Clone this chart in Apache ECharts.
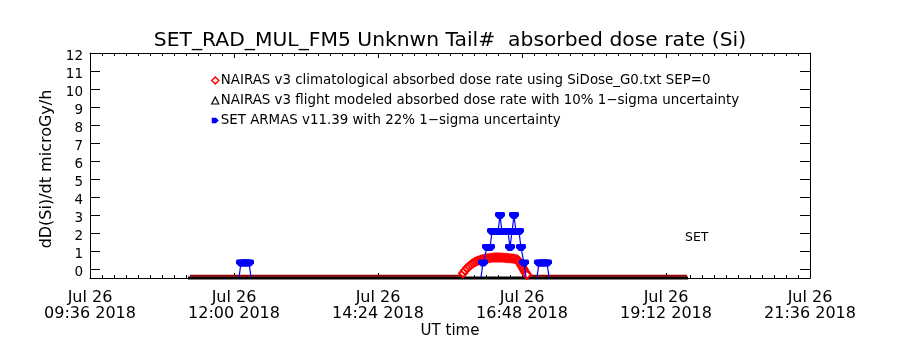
<!DOCTYPE html>
<html><head><meta charset="utf-8">
<script src="https://cdn.jsdelivr.net/npm/echarts@6/dist/echarts.min.js"></script>
<style>html,body{margin:0;padding:0;background:#fff}#c{width:900px;height:350px}</style>
</head><body><div id="c"></div>
<script>
// ---- data (x = minutes of day, UT, Jul 26 2018) ----
var xTickMinutes = [576, 720, 864, 1008, 1152, 1296];
var yRange = [-0.5, 12];
var yTicks = [0,1,2,3,4,5,6,7,8,9,10,11,12];
var seriesNames = [
  'NAIRAS v3 climatological absorbed dose rate using SiDose_G0.txt SEP=0',
  'NAIRAS v3 flight modeled absorbed dose rate with 10% 1\u2212sigma uncertainty',
  'SET ARMAS v11.39 with 22% 1\u2212sigma uncertainty'
];
// NAIRAS climatological
var climTime = [676, 760, 860, 947, 949, 951, 953, 955, 957, 959, 961, 963, 965, 967, 969, 971, 973, 975, 977, 979, 981, 983, 985, 987, 989, 991, 993, 995, 997, 999, 1001, 1003, 1004, 1005, 1006, 1007, 1008, 1009, 1010, 1011, 1012, 1013, 1014, 1015, 1080, 1173];
var climVal  = [-0.38, -0.38, -0.38, -0.38, -0.24, -0.09, 0.04, 0.15, 0.24, 0.32, 0.39, 0.44, 0.48, 0.52, 0.55, 0.57, 0.59, 0.6, 0.62, 0.63, 0.64, 0.64, 0.64, 0.63, 0.63, 0.62, 0.61, 0.6, 0.59, 0.58, 0.56, 0.53, 0.48, 0.42, 0.33, 0.24, 0.14, 0.04, -0.06, -0.15, -0.24, -0.32, -0.38, -0.38, -0.38, -0.38];
// NAIRAS flight modeled
var fltTime = [674, 900, 1174];
var fltVal  = [-0.5, -0.5, -0.5];
// SET ARMAS
var armasTime = [725, 727, 729, 731, 733, 735, 737, null,
  967, 969, 973, 976, 978, 981, 984, 986, 988, 991, 994, 996, 998, 1000, 1002, 1005, 1007, 1010, 1012, null,
  1023, 1025, 1027, 1029, 1031, 1033, 1035];
var armasVal = [-0.45, 0.33, 0.33, 0.33, 0.33, 0.33, -0.45,  null,
  -0.45, 0.33, 1.19, 1.19, 2.08, 2.08, 2.08, 2.97, 2.08, 2.08, 2.08, 1.19, 2.08, 2.97, 2.08, 2.08, 1.19, 0.33, -0.45, null,
  -0.45, 0.33, 0.33, 0.33, 0.33, 0.33, -0.45];

function pairs(t, v){ var o=[]; for(var i=0;i<t.length;i++){ o.push(t[i]===null?[null,null]:[t[i],v[i]]);} return o; }
var FONT = 'DejaVu Sans';
var months = ['Jan','Feb','Mar','Apr','May','Jun','Jul','Aug','Sep','Oct','Nov','Dec'];
function fmtX(m){
  var d = new Date(Date.UTC(2018,6,26,0,0,0) + m*60000);
  var hh = ('0'+d.getUTCHours()).slice(-2), mm = ('0'+d.getUTCMinutes()).slice(-2);
  return months[d.getUTCMonth()]+' '+d.getUTCDate()+'\n'+hh+':'+mm+' '+d.getUTCFullYear();
}
var bluePath = 'path://M0,1 L1,0 L9,0 L10,1 L10,4 L7,7 L3,7 L0,4 Z';
var blueLegend = 'path://M0,0 L6,0 L10,4 L6,8 L0,8 Z';
var xCommon = {
  type:'value', min: xTickMinutes[0], max: xTickMinutes[xTickMinutes.length-1], interval: 144,
  axisLine:{show:true, onZero:false, lineStyle:{color:'#000', width:1}},
  axisTick:{show:true, inside:true, length:5, lineStyle:{color:'#000', width:1}},
  minorTick:{show:true, splitNumber:12, length:3, lineStyle:{color:'#000', width:1}},
  splitLine:{show:false}, minorSplitLine:{show:false}
};
var yCommon = {
  type:'value', min: yRange[0], max: yRange[1],
  axisLine:{show:true, onZero:false, lineStyle:{color:'#000', width:1}},
  axisTick:{show:true, inside:true, length:10, customValues: yTicks, lineStyle:{color:'#000', width:1}},
  splitLine:{show:false}
};
var chart = echarts.init(document.getElementById('c'), null, {renderer:'canvas'});
chart.setOption({
  backgroundColor:'#fff',
  animation:false,
  textStyle:{fontFamily:FONT},
  title:{text:'SET_RAD_MUL_FM5 Unknwn Tail#  absorbed dose rate (Si)', left:'center', top:26,
    textStyle:{fontFamily:FONT, fontSize:20.3, fontWeight:'normal', color:'#000'}},
  grid:{left:90, right:90, top:53, bottom:72, containLabel:false},
  xAxis:[
    Object.assign({}, xCommon, {position:'bottom',
      axisLabel:{show:true, formatter:fmtX, fontFamily:FONT, fontSize:16, lineHeight:16, margin:12, color:'#000'}}),
    Object.assign({}, xCommon, {position:'top', axisLabel:{show:false}})
  ],
  yAxis:[
    Object.assign({}, yCommon, {position:'left',
      axisLabel:{show:true, customValues: yTicks, fontFamily:FONT, fontSize:13.5, margin:7, color:'#000', verticalAlign:'top', lineHeight:7}}),
    Object.assign({}, yCommon, {position:'right', axisLabel:{show:false}})
  ],
  legend:{orient:'vertical', left:206, top:68, itemGap:5, itemWidth:7, itemHeight:7,
    textStyle:{fontFamily:FONT, fontSize:13.4, color:'#000', lineHeight:15, padding:[0,0,0,-3]},
    selectedMode:false,
    data:[
      {name:seriesNames[0], icon:'diamond', itemStyle:{color:'#fff', borderColor:'#ff0000', borderWidth:1.5}},
      {name:seriesNames[1], icon:'triangle', itemStyle:{color:'#fff', borderColor:'#000', borderWidth:1.2}},
      {name:seriesNames[2], icon:blueLegend, itemStyle:{color:'#0000ff'}}
    ]},
  graphic:[
    {type:'text', x:47, y:169, rotation:Math.PI/2, style:{text:'dD(Si)/dt microGy/h', font:'16px "DejaVu Sans"', fill:'#000', textAlign:'center', textVerticalAlign:'middle'}},
    {type:'text', x:450, y:331, style:{text:'UT time', font:'15px "DejaVu Sans"', fill:'#000', textAlign:'center', textVerticalAlign:'middle'}},
    {type:'text', x:685, y:238, style:{text:'SET', font:'12.5px "DejaVu Sans"', fill:'#000', textAlign:'left', textVerticalAlign:'middle'}}
  ],
  series:[
    {name:seriesNames[1], type:'line', data:pairs(fltTime, fltVal), z:2, clip:false,
      showSymbol:false, symbol:'triangle', itemStyle:{color:'#000'},
      lineStyle:{color:'#000', width:3}},
    {name:seriesNames[0], type:'line', data:pairs(climTime, climVal), z:3,
      symbol:'diamond', symbolSize:function(v){return v[1]>-0.35?8:0;},
      itemStyle:{color:'#fff', borderColor:'#ff0000', borderWidth:2},
      lineStyle:{color:'#900000', width:2}},
    {name:seriesNames[2], type:'line', data:pairs(armasTime, armasVal), z:4, connectNulls:false,
      symbol:bluePath, symbolSize:function(v){return v[1]>0?[10,7]:0;},
      itemStyle:{color:'#0000ff'}, lineStyle:{color:'#0000ff', width:1.2}}
  ]
});
</script></body></html>
